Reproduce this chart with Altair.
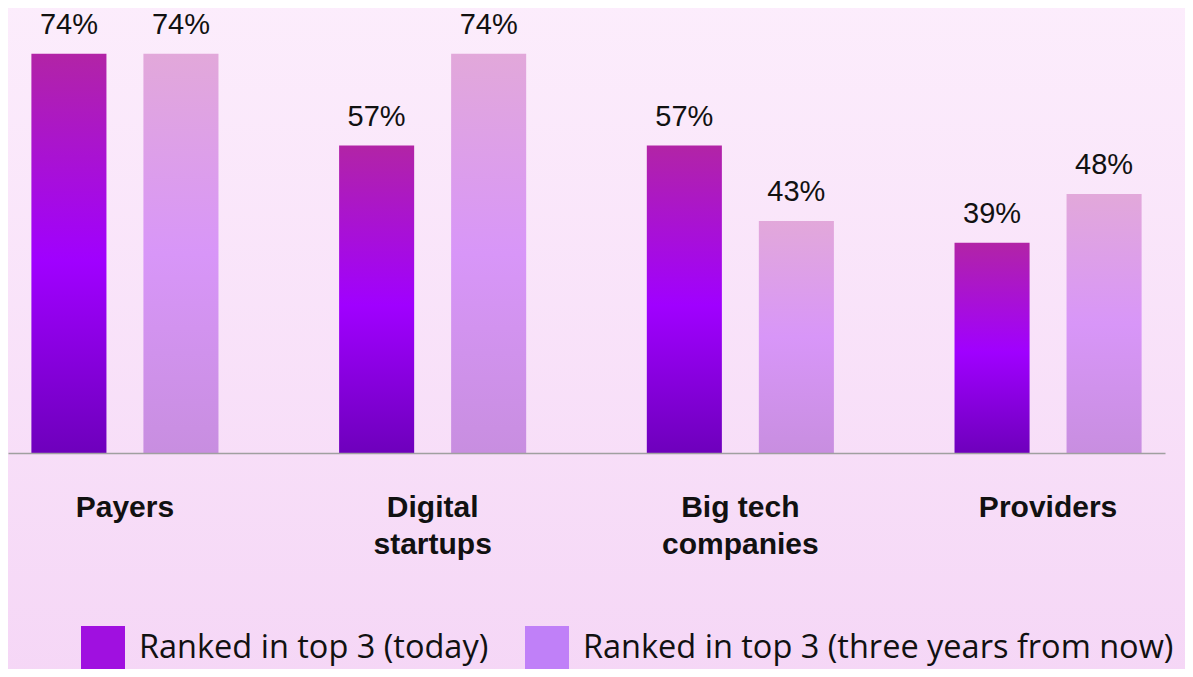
import altair as alt
import pandas as pd

categories = ["Payers", "Digital\nstartups", "Big tech\ncompanies", "Providers"]
series = ["Ranked in top 3 (today)", "Ranked in top 3 (three years from now)"]
today = [74, 57, 57, 39]
future = [74, 74, 43, 48]

rows = []
for c, a, b in zip(categories, today, future):
    rows.append({"category": c, "series": series[0], "value": a})
    rows.append({"category": c, "series": series[1], "value": b})
df = pd.DataFrame(rows)
df["label"] = df["value"].astype(str) + "%"

W, H = 1157, 445

x_enc = alt.X("category:N", sort=categories,
              scale=alt.Scale(paddingInner=0.36, paddingOuter=0.06),
              axis=alt.Axis(title=None, ticks=False, tickSize=0, domainColor="#a0a0a0",
                            domainWidth=1.5, labelAngle=0, labelFont="Liberation Sans",
                            labelFontSize=30, labelFontWeight="bold", labelColor="#111111",
                            labelPadding=63, labelBaseline="alphabetic", labelLineHeight=37,
                            labelOverlap=False, labelLimit=400, zindex=2,
                            labelExpr="split(datum.label, '\\n')"))
xo_enc = alt.XOffset("series:N", sort=series,
                     scale=alt.Scale(domain=series, paddingInner=0.33, paddingOuter=0.044))
y_enc = alt.Y("value:Q", scale=alt.Scale(domain=[0, 82.5]), axis=None)

grad_dark = alt.Gradient(gradient="linear", x1=0, x2=0, y1=0, y2=1, stops=[
    alt.GradientStop(color="#b224a6", offset=0),
    alt.GradientStop(color="#a000ff", offset=0.52),
    alt.GradientStop(color="#6e00bc", offset=1)])
grad_light = alt.Gradient(gradient="linear", x1=0, x2=0, y1=0, y2=1, stops=[
    alt.GradientStop(color="#e2a8da", offset=0),
    alt.GradientStop(color="#d896f8", offset=0.5),
    alt.GradientStop(color="#c88ee0", offset=1)])
grad_bg = alt.Gradient(gradient="linear", x1=0, x2=0, y1=0, y2=1, stops=[
    alt.GradientStop(color="#fcedfc", offset=0),
    alt.GradientStop(color="#f5d6f6", offset=1)])

base = alt.Chart(df)

bg = alt.Chart(alt.Data(values=[{"a": 1}])).mark_rect(color=grad_bg).encode(
    x=alt.value(-8), x2=alt.value(1200), y=alt.value(-8), y2=alt.value(690))

legend_layer = base.mark_bar(opacity=0).encode(
    x=x_enc, xOffset=xo_enc, y=y_enc,
    color=alt.Color("series:N", sort=series,
                    scale=alt.Scale(domain=series, range=["#a010e0", "#c080f8"]),
                    legend=alt.Legend(orient="none", legendX=73, legendY=618,
                                      direction="horizontal", title=None,
                                      symbolType="square", symbolSize=1936,
                                      symbolOpacity=1, symbolStrokeWidth=0,
                                      labelFont="Open Sans", labelFontSize=32.5,
                                      labelColor="#111111", labelOffset=14,
                                      columnPadding=36, padding=0, labelLimit=1000)))

dark = base.transform_filter(alt.datum.series == series[0]).mark_bar(color=grad_dark).encode(
    x=x_enc, xOffset=xo_enc, y=y_enc)
light = base.transform_filter(alt.datum.series == series[1]).mark_bar(color=grad_light).encode(
    x=x_enc, xOffset=xo_enc, y=y_enc)

labels = base.mark_text(font="Liberation Sans", fontSize=29, color="#111111",
                        baseline="alphabetic", dy=-20).encode(
    x=x_enc, xOffset=xo_enc, y=y_enc, text="label:N")

chart = alt.layer(bg, legend_layer, dark, light, labels).properties(
    width=W, height=H,
    autosize=alt.AutoSizeParams(type="none"),
    padding={"left": 0, "top": 0, "right": 20, "bottom": 216},
    background="#f8e2f8",
).configure_view(stroke=None)

chart.save("out.html", embed_options={"renderer": "svg", "actions": False})
